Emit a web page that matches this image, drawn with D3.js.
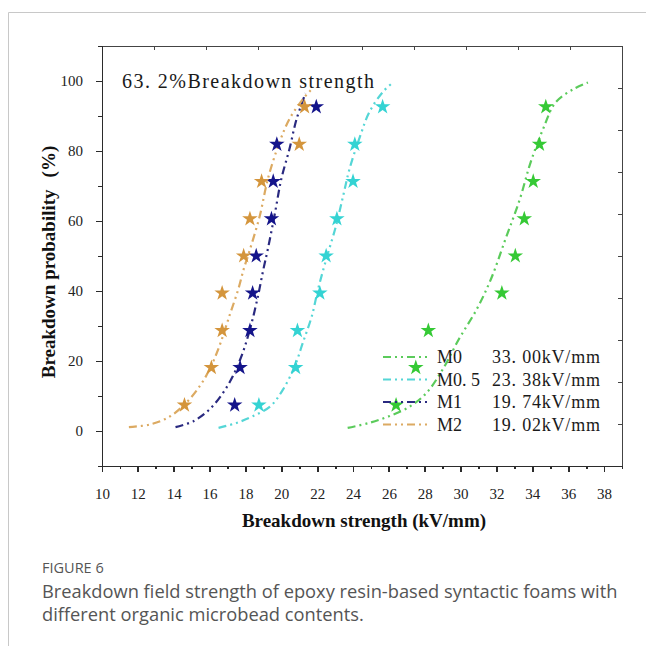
<!DOCTYPE html>
<html lang="en">
<head>
<meta charset="UTF-8">
<title>Breakdown strength</title>
<script src="https://cdn.jsdelivr.net/npm/d3@7"></script>
<style>
    body { margin: 0; background-color: white; }
    svg { display: block; }
    .axis path, .axis line {
        fill: none;
        stroke: #2b2b2b;
        stroke-width: 1.8;
        shape-rendering: crispEdges;
    }
    .axis text {
        font-family: "Liberation Serif", serif;
        font-size: 15px;
        fill: #222;
    }
    .frame path, .frame line {
        fill: none;
        stroke: #444;
        stroke-width: 1.5;
        shape-rendering: crispEdges;
    }
    .title {
        font-family: "Liberation Serif", serif;
        font-weight: bold;
        font-size: 19px;
        fill: #111;
    }
    .mono {
        font-family: "Liberation Serif", serif;
        fill: #1a1a1a;
    }
    .caption {
        font-family: "Open Sans", sans-serif;
        fill: #555;
    }
</style>
</head>
<body>
<svg width="646" height="646"></svg>
<script>
// cumulative breakdown probability of the 9 samples (%)
var probs = [7.4, 18.1, 28.7, 39.4, 50.0, 60.6, 71.3, 81.9, 92.6];

var seriesNames = ["M0", "M0.5", "M1", "M2"];
var scaleLabels = ["33. 00kV/mm", "23. 38kV/mm", "19. 74kV/mm", "19. 02kV/mm"];

// measured breakdown strength (kV/mm)
var m0Strength  = [26.4, 27.5, 28.2, 32.3, 33.05, 33.55, 34.05, 34.4, 34.75];
var m05Strength = [18.75, 20.8, 20.9, 22.15, 22.5, 23.1, 24.0, 24.1, 25.65];
var m1Strength  = [17.4, 17.7, 18.25, 18.4, 18.6, 19.45, 19.55, 19.75, 21.95];
var m2Strength  = [14.6, 16.1, 16.7, 16.7, 17.9, 18.25, 18.9, 21.0, 21.3];

// fitted Weibull curves [strength, probability]
var m0Curve = [[23.7, 0.9], [24.9, 2.3], [26.0, 4.2], [27.2, 7.1], [28.1, 10.9], [29.0, 17.6],
    [29.9, 26.2], [30.9, 34.8], [31.7, 43.5], [32.5, 54.8], [33.3, 66.2], [33.9, 76.7],
    [34.6, 86.3], [35.3, 93.9], [36.3, 97.7], [37.1, 99.6]];
var m05Curve = [[16.5, 0.9], [17.5, 2.3], [18.4, 4.2], [19.4, 7.1], [20.1, 11.9], [20.75, 18.5],
    [21.2, 25.2], [21.7, 32.8], [22.05, 40.5], [22.5, 49.0], [23.05, 58.6], [23.45, 67.2],
    [23.8, 74.8], [24.4, 84.3], [24.9, 91.0], [25.65, 96.8], [26.2, 99.5]];
var m1Curve = [[14.1, 1.1], [15.1, 2.8], [16.0, 6.2], [16.75, 10.9], [17.3, 15.7], [17.85, 22.4],
    [18.3, 30.0], [18.7, 38.6], [19.0, 46.2], [19.25, 52.0], [19.65, 62.4], [20.0, 72.0],
    [20.45, 80.5], [20.85, 89.1], [21.35, 96.5]];
var m2Curve = [[11.5, 1.1], [12.7, 1.9], [13.8, 4.2], [14.7, 8.1], [15.45, 12.8], [16.0, 17.6],
    [16.55, 24.3], [17.1, 32.8], [17.6, 40.5], [17.9, 46.2], [18.2, 51.0], [18.8, 61.5],
    [19.25, 72.0], [19.9, 82.5], [20.45, 89.1], [21.2, 94.8], [21.7, 97.7]];

var xTicks = d3.range(10, 39, 2);
var yTicks = [0, 20, 40, 60, 80, 100];

var starColors  = ["#35c935", "#34d3d3", "#14148a", "#d4953c"];
var curveColors = ["#5bcb5b", "#55d6d6", "#2a2a80", "#dcaa62"];

var strengths = [m0Strength, m05Strength, m1Strength, m2Strength];
var curves = [m0Curve, m05Curve, m1Curve, m2Curve];

var svg = d3.select("svg");

// page border
svg.append("path")
    .attr("d", "M8.5,646V12.5H646")
    .attr("fill", "none")
    .attr("stroke", "#c8c8c8")
    .attr("stroke-width", 1);

var plotLeft = 102, plotRight = 622, plotTop = 46, plotBottom = 466;

var getX = d3.scaleLinear().domain([10, 39]).range([plotLeft, plotRight]);
var getY = d3.scaleLinear().domain([-10, 110]).range([plotBottom, plotTop]);

// mirrored frame axes (top / right) with their own even divisions
var frameX = d3.scaleLinear().domain([0, 10]).range([plotLeft, plotRight]);
var frameY = d3.scaleLinear().domain([0, 10]).range([plotBottom, plotTop]);

svg.append("g").attr("class", "frame")
    .attr("transform", "translate(0," + plotTop + ")")
    .call(d3.axisTop(frameX).tickValues(d3.range(1, 10)).tickSizeInner(-4).tickSizeOuter(0).tickFormat(""));
svg.append("g").attr("class", "frame")
    .attr("transform", "translate(" + plotRight + ",0)")
    .call(d3.axisRight(frameY).tickValues(d3.range(1, 10)).tickSizeInner(-4).tickSizeOuter(0).tickFormat(""));

// minor ticks
svg.append("g").attr("class", "axis")
    .attr("transform", "translate(0," + plotBottom + ")")
    .call(d3.axisBottom(getX).tickValues(d3.range(11, 39, 2)).tickSize(3).tickFormat(""));
svg.append("g").attr("class", "axis")
    .attr("transform", "translate(" + plotLeft + ",0)")
    .call(d3.axisLeft(getY).tickValues(d3.range(10, 100, 20)).tickSize(4).tickFormat(""));

svg.append("g").attr("class", "axis")
    .attr("transform", "translate(0," + plotBottom + ")")
    .call(d3.axisBottom(getX).tickValues(xTicks).tickSize(6).tickSizeOuter(0).tickPadding(16));
svg.append("g").attr("class", "axis")
    .attr("transform", "translate(" + plotLeft + ",0)")
    .call(d3.axisLeft(getY).tickValues(yTicks).tickSize(6).tickSizeOuter(0).tickPadding(13));

// axis titles
svg.append("text")
    .attr("class", "title")
    .attr("x", (plotLeft + plotRight) / 2 + 2)
    .attr("y", 527)
    .attr("text-anchor", "middle")
    .text("Breakdown strength (kV/mm)");

var yTitle = svg.append("text")
    .attr("class", "title")
    .attr("transform", "translate(55,262) rotate(-90)")
    .attr("text-anchor", "middle");
yTitle.append("tspan").text("Breakdown probability");
yTitle.append("tspan").attr("dx", 12).text("(%)");

// fitted curves
var line = d3.line()
    .x(function (d) { return getX(d[0]); })
    .y(function (d) { return getY(d[1]); })
    .curve(d3.curveCatmullRom);

svg.selectAll(".fit")
    .data(curves)
    .enter()
    .append("path")
    .attr("class", "fit")
    .attr("d", line)
    .attr("fill", "none")
    .attr("stroke", function (d, i) { return curveColors[i]; })
    .attr("stroke-width", 2.2)
    .attr("stroke-dasharray", "8,4,2,4,2,4");

// sample points
var star = d3.symbol().type(d3.symbolStar).size(75);
strengths.forEach(function (s, i) {
    svg.selectAll(".pt" + i)
        .data(s)
        .enter()
        .append("path")
        .attr("class", "pt" + i)
        .attr("d", star)
        .attr("transform", function (d, j) {
            return "translate(" + getX(d) + "," + getY(probs[j]) + ")";
        })
        .attr("fill", starColors[i]);
});

// note
svg.append("text")
    .attr("class", "mono")
    .attr("x", 122)
    .attr("y", 88)
    .attr("font-size", 20)
    .attr("textLength", 252)
    .attr("lengthAdjust", "spacing")
    .text("63. 2%Breakdown strength");

// legend
var legend = svg.selectAll(".legend")
    .data(seriesNames)
    .enter()
    .append("g")
    .attr("class", "legend")
    .attr("transform", function (d, i) { return "translate(383," + (357 + i * 22.5) + ")"; });

legend.append("line")
    .attr("x1", 0).attr("x2", 44)
    .attr("stroke", function (d, i) { return curveColors[i]; })
    .attr("stroke-width", 2.2)
    .attr("stroke-dasharray", "8,4,2,4,2,4");

legend.append("text")
    .attr("class", "mono")
    .attr("x", 54).attr("y", 6)
    .attr("font-size", 18)
    .text(function (d) { return d === "M0.5" ? "M0. 5" : d; });

legend.append("text")
    .attr("class", "mono")
    .attr("x", 109).attr("y", 6)
    .attr("font-size", 18)
    .attr("textLength", 108)
    .attr("lengthAdjust", "spacing")
    .text(function (d, i) { return scaleLabels[i]; });

// caption
svg.append("text")
    .attr("class", "caption")
    .attr("x", 42).attr("y", 573)
    .attr("font-size", 14.5)
    .text("FIGURE 6");
svg.append("text")
    .attr("class", "caption")
    .attr("x", 42).attr("y", 598)
    .attr("font-size", 18.3)
    .text("Breakdown field strength of epoxy resin-based syntactic foams with");
svg.append("text")
    .attr("class", "caption")
    .attr("x", 42).attr("y", 621)
    .attr("font-size", 18.3)
    .text("different organic microbead contents.");
</script>
</body>
</html>
